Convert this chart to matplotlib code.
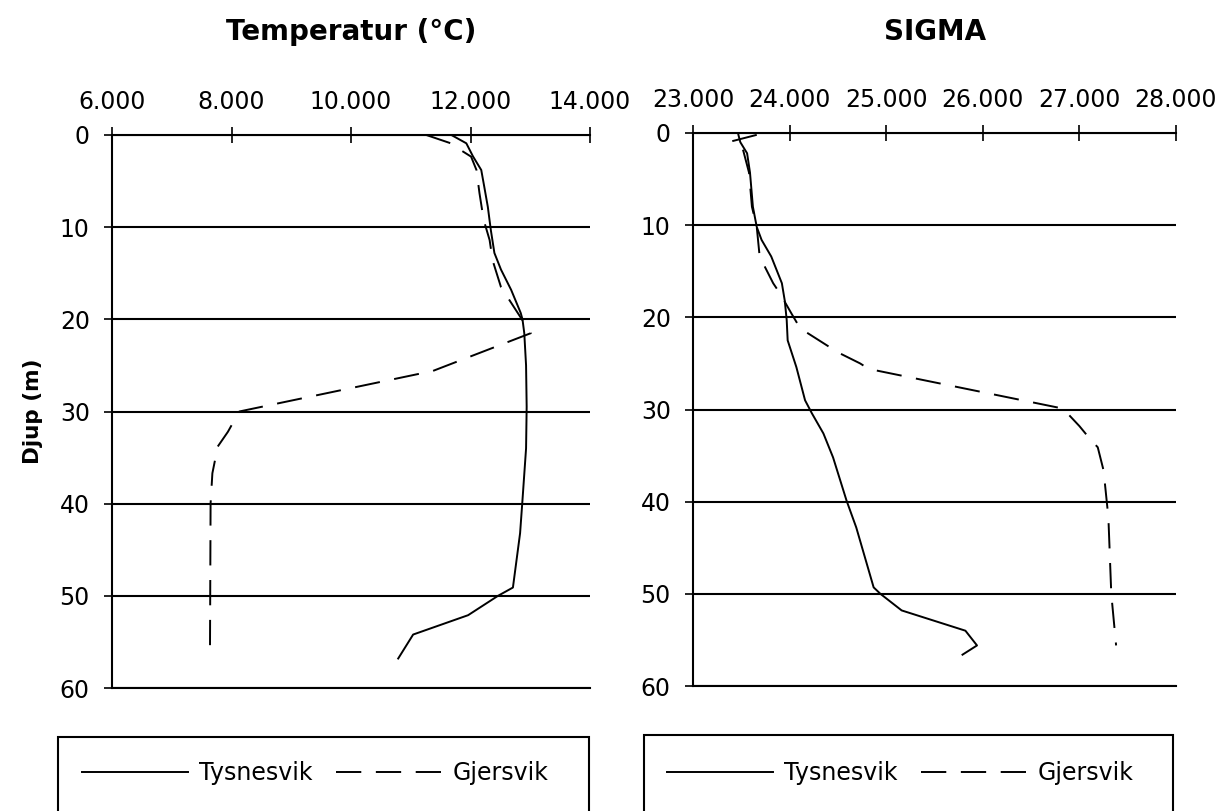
import matplotlib
matplotlib.use("Agg")
import matplotlib.pyplot as plt
from matplotlib.patches import Rectangle
from matplotlib.ticker import FuncFormatter

plt.rcParams['font.family'] = ['DejaVu Sans']

# Temperatur (°C) mot djup (m)
temp_tys_djup = [0.0, 0.9, 2.3, 3.8, 5.6, 7.8, 10.3, 12.8, 14.6, 16.8, 19.3, 20.0,
                 21.5, 25.0, 29.5, 34.0, 39.6, 43.2, 49.1, 50.0, 52.1, 54.2, 56.8]
temp_tys = [11.68, 11.93, 12.04, 12.18, 12.23, 12.29, 12.34, 12.40, 12.51, 12.68, 12.84, 12.87,
            12.90, 12.93, 12.94, 12.93, 12.87, 12.83, 12.71, 12.46, 11.96, 11.04, 10.79]

temp_gje_djup = [0.0, 0.9, 1.45, 2.35, 3.8, 6.3, 9.2, 11.4, 13.6, 16.5, 19.3, 21.5,
                 25.6, 30.0, 32.2, 33.8, 36.7, 40.0, 55.8]
temp_gje = [11.26, 11.67, 11.79, 12.01, 12.10, 12.15, 12.22, 12.32, 12.37, 12.51, 12.79, 13.01,
            11.37, 8.13, 7.94, 7.77, 7.68, 7.65, 7.64]

# SIGMA mot djup (m)
sig_tys_djup = [0.2, 1.0, 2.2, 4.3, 8.0, 10.2, 11.6, 13.4, 16.3, 18.2, 20.3, 22.5, 25.4,
                29.0, 30.4, 32.6, 35.2, 39.9, 42.8, 49.3, 50.0, 51.8, 54.0, 55.6, 56.6]
sig_tys = [23.47, 23.49, 23.56, 23.59, 23.62, 23.66, 23.71, 23.81, 23.92, 23.95, 23.97, 23.98, 24.07,
           24.16, 24.23, 24.35, 24.45, 24.59, 24.69, 24.87, 24.94, 25.16, 25.82, 25.94, 25.79]

sig_gje_djup = [0.2, 0.9, 1.9, 4.3, 8.0, 10.2, 13.4, 16.3, 17.4, 19.6, 21.2, 22.8, 23.8, 25.0,
                25.6, 29.9, 31.8, 33.2, 34.1, 36.6, 41.7, 50.0, 55.6]
sig_gje = [23.66, 23.40, 23.52, 23.58, 23.61, 23.66, 23.69, 23.83, 23.90, 24.02, 24.11, 24.35, 24.50, 24.73,
           24.82, 26.83, 27.00, 27.11, 27.19, 27.25, 27.30, 27.33, 27.38]

temp_ticks = [6, 8, 10, 12, 14]
sig_ticks = [23, 24, 25, 26, 27, 28]
djup_ticks = [0, 10, 20, 30, 40, 50, 60]

W, H = 1220, 811
fig = plt.figure(figsize=(W / 100, H / 100), dpi=100)

dash = (0, (13, 7.5))
lw = 1.4
fs = 17


def panel(rect, xs, title, data, xcenter):
    ax = fig.add_axes(rect)
    for x, y, ls, lab in data:
        ax.plot(x, y, color='black', lw=lw, linestyle=ls, label=lab)
    ax.set_xlim(xs[0], xs[-1])
    ax.set_ylim(60, 0)
    ax.set_xticks(xs)
    ax.set_yticks(djup_ticks)
    ax.xaxis.set_major_formatter(FuncFormatter(lambda v, p: f"{v:.3f}"))
    ax.xaxis.tick_top()
    ax.tick_params(axis='x', direction='inout', length=12, width=1.2, pad=9,
                   labelsize=fs, top=True, bottom=False)
    ax.tick_params(axis='y', direction='inout', length=12, width=1.2, pad=10,
                   labelsize=fs)
    ax.spines['right'].set_visible(False)
    for s in ['top', 'bottom', 'left']:
        ax.spines[s].set_linewidth(1.5)
    ax.yaxis.grid(True, color='black', lw=1.5)
    ax.set_axisbelow(True)
    fig.text(xcenter / W, 1 - 32 / H, title, ha='center', va='center',
             fontsize=20, fontweight='bold')
    return ax


ax1 = panel([112 / W, 1 - 688 / H, (590 - 112) / W, (688 - 135) / H],
            temp_ticks, "Temperatur (°C)",
            [(temp_tys, temp_tys_djup, '-', 'Tysnesvik'),
             (temp_gje, temp_gje_djup, dash, 'Gjersvik')], 351)
ax1.set_ylabel("Djup (m)", fontsize=15.5, fontweight='bold', labelpad=12)

ax2 = panel([693 / W, 1 - 686 / H, (1176 - 693) / W, (686 - 133) / H],
            sig_ticks, "SIGMA",
            [(sig_tys, sig_tys_djup, '-', 'Tysnesvik'),
             (sig_gje, sig_gje_djup, dash, 'Gjersvik')], 935)

# legend boxes (cut off at the bottom edge like the original)
for ax, x0, x1, top in [(ax1, 58, 589, 737), (ax2, 644, 1173, 735)]:
    fig.patches.append(Rectangle((x0 / W, -0.05), (x1 - x0) / W, (H - top) / H + 0.05,
                                 transform=fig.transFigure, fill=False,
                                 edgecolor='black', lw=1.5))
    fig.legend(*ax.get_legend_handles_labels(), loc='center',
               bbox_to_anchor=((x0 + x1) / 2 / W - 8 / W, 1 - 773 / H),
               ncol=2, frameon=False, fontsize=fs, handlelength=4.5,
               handletextpad=0.45, columnspacing=1.0)

fig.savefig("out.png", dpi=100)
